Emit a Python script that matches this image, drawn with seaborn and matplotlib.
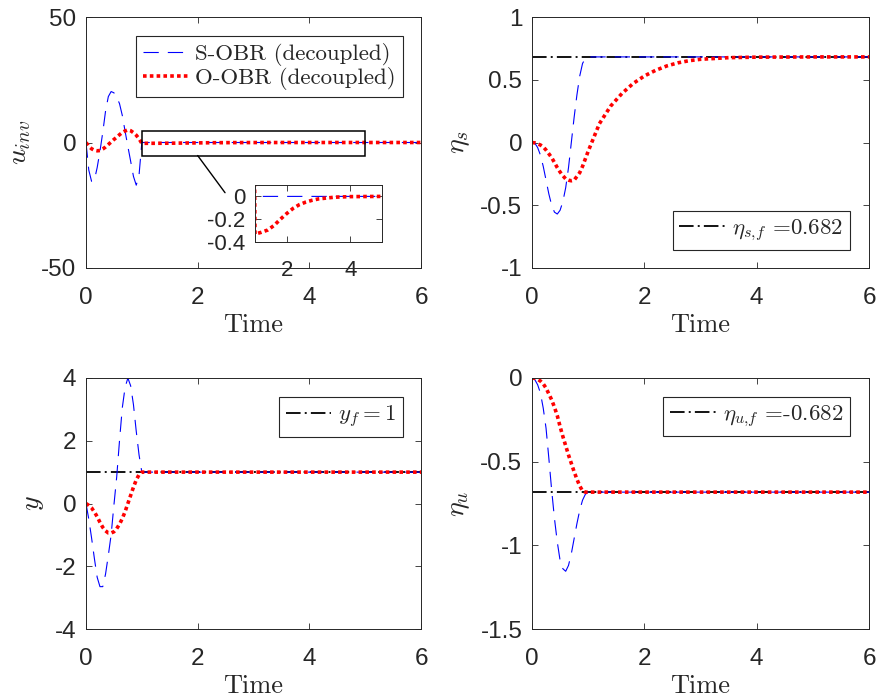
import matplotlib
matplotlib.use("Agg")
import matplotlib.pyplot as plt
import seaborn as sns
import pandas as pd
from matplotlib.patches import Rectangle, ConnectionPatch

# ---------------------------------------------------------------- data
time = [0.00, 0.05, 0.10, 0.15, 0.20, 0.25, 0.30, 0.35, 0.40, 0.45, 0.50,
        0.55, 0.60, 0.65, 0.70, 0.75, 0.80, 0.85, 0.90, 0.95, 1.00,
        1.2, 1.4, 1.6, 1.8, 2.0, 2.2, 2.4, 2.6, 2.8, 3.0, 3.5, 4.0, 5.0, 6.0]

u_inv_sobr = [0.0, -11.0, -15.5, -15.0, -10.0, -3.5, 4.0, 12.5, 18.3, 20.3, 19.8,
              18.0, 15.5, 10.8, 4.5, -1.6, -7.5, -13.5, -17.0, -13.0, 0.0,
              0.0, 0.0, 0.0, 0.0, 0.0, 0.0, 0.0, 0.0, 0.0, 0.0, 0.0, 0.0, 0.0, 0.0]
u_inv_oobr = [0.0, -1.5, -2.5, -3.1, -3.3, -3.2, -2.6, -1.8, -0.8, 0.2, 1.2,
              2.1, 3.1, 4.0, 4.6, 5.0, 4.7, 3.9, 2.9, 1.5, -0.33,
              -0.315, -0.295, -0.255, -0.2, -0.15, -0.105, -0.072, -0.05, -0.034, -0.022,
              -0.007, -0.002, 0.0, 0.0]

eta_s_sobr = [0.0, -0.005, -0.04, -0.1, -0.19, -0.3, -0.41, -0.5, -0.555, -0.57, -0.54,
              -0.47, -0.36, -0.2, 0.0, 0.2, 0.38, 0.53, 0.63, 0.67, 0.682,
              0.682, 0.682, 0.682, 0.682, 0.682, 0.682, 0.682, 0.682, 0.682, 0.682,
              0.682, 0.682, 0.682, 0.682]
eta_s_oobr = [0.0, -0.003, -0.01, -0.02, -0.035, -0.06, -0.09, -0.12, -0.16, -0.2, -0.235,
              -0.265, -0.29, -0.3, -0.305, -0.3, -0.27, -0.24, -0.19, -0.13, -0.07,
              0.15, 0.29, 0.39, 0.47, 0.53, 0.575, 0.61, 0.635, 0.652, 0.663,
              0.676, 0.68, 0.682, 0.682]

y_sobr = [0.0, -0.5, -1.1, -1.75, -2.35, -2.65, -2.65, -2.25, -1.65, -1.0, -0.05,
          0.85, 2.0, 3.05, 3.7, 4.0, 3.75, 3.15, 2.3, 1.55, 1.0,
          1.0, 1.0, 1.0, 1.0, 1.0, 1.0, 1.0, 1.0, 1.0, 1.0, 1.0, 1.0, 1.0, 1.0]
y_oobr = [0.0, -0.06, -0.14, -0.27, -0.42, -0.6, -0.76, -0.87, -0.94, -0.94, -0.9,
          -0.8, -0.66, -0.48, -0.26, 0.0, 0.26, 0.52, 0.75, 0.92, 1.0,
          1.0, 1.0, 1.0, 1.0, 1.0, 1.0, 1.0, 1.0, 1.0, 1.0, 1.0, 1.0, 1.0, 1.0]

eta_u_sobr = [0.0, -0.01, -0.04, -0.09, -0.18, -0.3, -0.48, -0.67, -0.84, -0.98, -1.09,
              -1.14, -1.155, -1.12, -1.05, -0.96, -0.87, -0.79, -0.73, -0.695, -0.682,
              -0.682, -0.682, -0.682, -0.682, -0.682, -0.682, -0.682, -0.682, -0.682, -0.682,
              -0.682, -0.682, -0.682, -0.682]
eta_u_oobr = [0.0, -0.002, -0.008, -0.018, -0.035, -0.06, -0.095, -0.13, -0.175, -0.225, -0.29,
              -0.35, -0.405, -0.46, -0.51, -0.56, -0.605, -0.645, -0.675, -0.682, -0.682,
              -0.682, -0.682, -0.682, -0.682, -0.682, -0.682, -0.682, -0.682, -0.682, -0.682,
              -0.682, -0.682, -0.682, -0.682]

eta_s_final = 0.682
y_final = 1.0
eta_u_final = -0.682

series_labels = ["S-OBR (decoupled)", "O-OBR (decoupled)"]
ref_labels = [r"$\eta_{s{,}f}$ =0.682", r"$y_f = 1$", r"$\eta_{u{,}f}$ =-0.682"]
y_names = [r"$u_{inv}$", r"$\eta_s$", r"$y$", r"$\eta_u$"]

x_ticks = [0, 2, 4, 6]
u_ticks, u_ticklabels = [-50, 0, 50], ["-50", "0", "50"]
es_ticks, es_ticklabels = [-1, -0.5, 0, 0.5, 1], ["-1", "-0.5", "0", "0.5", "1"]
y_ticks, y_ticklabels = [-4, -2, 0, 2, 4], ["-4", "-2", "0", "2", "4"]
eu_ticks, eu_ticklabels = [-1.5, -1, -0.5, 0], ["-1.5", "-1", "-0.5", "0"]
zoom_xticks = [2, 4]
zoom_yticks, zoom_yticklabels = [-0.4, -0.2, 0], ["-0.4", "-0.2", "0"]

df = pd.DataFrame({
    "t": time,
    "u_inv_sobr": u_inv_sobr, "u_inv_oobr": u_inv_oobr,
    "eta_s_sobr": eta_s_sobr, "eta_s_oobr": eta_s_oobr,
    "y_sobr": y_sobr, "y_oobr": y_oobr,
    "eta_u_sobr": eta_u_sobr, "eta_u_oobr": eta_u_oobr,
})

# ---------------------------------------------------------------- style
sns.set_style("ticks")
plt.rcParams.update({
    "font.family": ["Liberation Sans", "DejaVu Sans"],
    "mathtext.fontset": "cm",
    "axes.unicode_minus": False,
    "lines.scale_dashes": False,
    "axes.edgecolor": "#262626",
    "axes.linewidth": 0.7,
    "text.color": "#262626",
})

BLUE = dict(color="#0000ff", linewidth=0.8)
BLUE_DASH = (0, (11, 6.5))
RED = dict(color="#ff0000", linewidth=2.6)
RED_DOT = (0, (2.6, 2.3))
BLACK = dict(color="black", linewidth=1.3)
BLACK_DASHDOT = (0, (10.5, 3, 1.4, 3))

W, H = 877, 698
fig = plt.figure(figsize=(W / 100, H / 100), dpi=100)


def px_axes(l, t, r, b):
    return fig.add_axes([l / W, (H - b) / H, (r - l) / W, (b - t) / H])


def style_axes(ax, labelsize=17.5, xpad=13.5, ypad=7):
    ax.tick_params(direction="in", top=True, right=True, length=4, width=0.6,
                   color="#262626", labelcolor="#262626", labelsize=labelsize)
    ax.tick_params(axis="x", pad=xpad)
    ax.tick_params(axis="y", pad=ypad)
    for sp in ax.spines.values():
        sp.set_visible(True)
        sp.set_color("#262626")
        sp.set_linewidth(0.7)


def draw_series(ax, col, kws, dash):
    sns.lineplot(data=df, x="t", y=col, ax=ax, legend=False, errorbar=None, **kws)
    line = ax.lines[-1]
    line.set_linestyle(dash)
    line.set_dash_capstyle("butt")
    return line


def legend(ax, handles, labels, loc, anchor):
    leg = ax.legend(handles, labels, loc=loc, bbox_to_anchor=anchor,
                    borderaxespad=0, prop={"family": "cmr10", "size": 16.5},
                    handlelength=2.0, handletextpad=0.3, borderpad=0.3,
                    labelspacing=0.05, fancybox=False, framealpha=1, frameon=True)
    fr = leg.get_frame()
    fr.set_edgecolor("#262626")
    fr.set_linewidth(0.8)
    return leg


panels = [
    # (pixel box, sobr col, oobr col, ylim, ticks, ticklabels, ylabel, ref value, ref label)
    ((86, 17, 421, 268), "u_inv_sobr", "u_inv_oobr", (-50, 50), u_ticks, u_ticklabels,
     y_names[0], None, None),
    ((532, 17, 869, 268), "eta_s_sobr", "eta_s_oobr", (-1, 1), es_ticks, es_ticklabels,
     y_names[1], eta_s_final, ref_labels[0]),
    ((86, 378, 421, 629), "y_sobr", "y_oobr", (-4, 4), y_ticks, y_ticklabels,
     y_names[2], y_final, ref_labels[1]),
    ((532, 378, 869, 629), "eta_u_sobr", "eta_u_oobr", (-1.5, 0), eu_ticks, eu_ticklabels,
     y_names[3], eta_u_final, ref_labels[2]),
]

axes = []
for box, cs, co, ylim, ticks, tlabels, ylab, ref, reflab in panels:
    ax = px_axes(*box)
    ref_line = None
    if ref is not None:
        ref_line = ax.axhline(ref, **BLACK, linestyle=BLACK_DASHDOT)
    ls = draw_series(ax, cs, BLUE, BLUE_DASH)
    lo = draw_series(ax, co, RED, RED_DOT)
    ax.set_xlim(0, 6)
    ax.set_ylim(*ylim)
    ax.set_xticks(x_ticks)
    ax.set_xticklabels([str(v) for v in x_ticks])
    ax.set_yticks(ticks)
    ax.set_yticklabels(tlabels)
    style_axes(ax)
    ax.set_xlabel("Time", fontfamily="cmr10", fontsize=19, labelpad=3, color="#262626")
    ax.set_ylabel(ylab, fontsize=20, labelpad=6, color="#262626")
    axes.append((ax, ls, lo, ref_line, reflab))

# legends
ax0, ls0, lo0, _, _ = axes[0]
legend(ax0, [ls0, lo0], series_labels, "upper right", (0.946, 0.9255))
ax1, _, _, r1, l1 = axes[1]
legend(ax1, [r1], [l1], "lower right", (0.9436, 0.0717))
ax2, _, _, r2, l2 = axes[2]
legend(ax2, [r2], [l2], "upper right", (0.947, 0.9255))
ax3, _, _, r3, l3 = axes[3]
legend(ax3, [r3], [l3], "upper right", (0.9436, 0.9255))

# zoom window on the tail of u_inv
zx0, zx1, zy0, zy1 = 1.0, 5.0, -5.2, 4.7
ax0.add_patch(Rectangle((zx0, zy0), zx1 - zx0, zy1 - zy0, fill=False,
                        edgecolor="black", linewidth=1.1, zorder=5))
axin = px_axes(255, 185, 382, 242)
draw_series(axin, "u_inv_sobr", BLUE, BLUE_DASH)
draw_series(axin, "u_inv_oobr", RED, RED_DOT)
axin.set_xlim(zx0, zx1)
axin.set_ylim(-0.4, 0.1)
axin.set_xticks(zoom_xticks)
axin.set_xticklabels([str(v) for v in zoom_xticks])
axin.set_yticks(zoom_yticks)
axin.set_yticklabels(zoom_yticklabels)
axin.set_xlabel("")
axin.set_ylabel("")
style_axes(axin, labelsize=16, xpad=13, ypad=7)
axin.patch.set_alpha(1)

con = ConnectionPatch(xyA=(2.0, zy0), coordsA=ax0.transData,
                      xyB=(-0.236, 0.865), coordsB=axin.transAxes,
                      color="black", linewidth=1.0)
fig.add_artist(con)

fig.savefig("out.png", dpi=100)
